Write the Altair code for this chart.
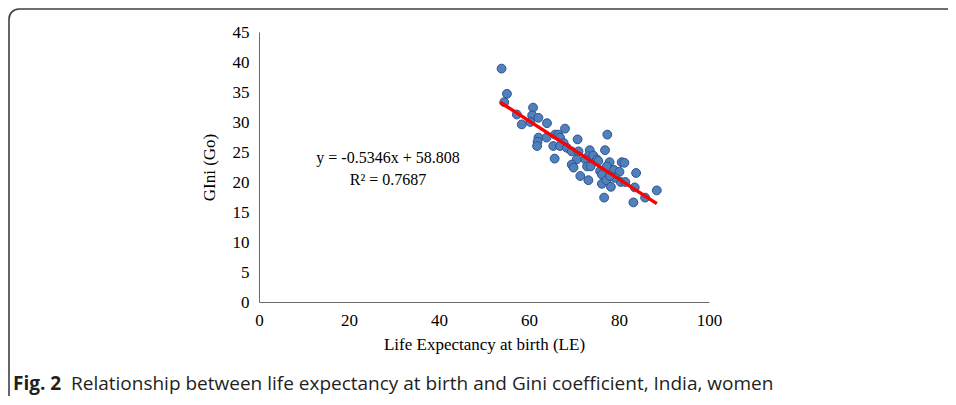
import altair as alt
import pandas as pd

# Life expectancy at birth (LE) and Gini (Go)
le = [53.9, 55.1, 54.5, 57.3, 58.4, 60.9, 60.7, 60.3, 62.1, 64.0, 68.0, 65.8, 66.5, 66.9,
      62.1, 61.9, 61.8, 65.4, 67.7, 66.9, 68.4, 70.8, 65.7, 69.5, 71.0, 70.6, 69.5, 69.9,
      73.5, 73.2, 72.5, 74.3, 75.1, 75.4, 72.9, 73.7, 75.8, 71.4, 73.2, 77.4, 76.9, 77.9,
      77.3, 78.9, 80.1, 76.2, 76.2, 77.2, 78.2, 76.7, 80.6, 81.2, 80.4, 81.4, 83.8, 83.5,
      83.2, 85.8, 88.4, 79.1, 63.9, 78.0]
gini = [38.9, 34.7, 33.3, 31.25, 29.6, 32.4, 31.1, 30.0, 30.7, 29.8, 28.9, 27.9, 27.9, 27.4,
        27.4, 26.7, 26.0, 26.0, 26.5, 26.0, 25.7, 27.1, 23.9, 25.1, 25.1, 23.75, 22.9, 22.4,
        25.3, 24.3, 23.75, 24.4, 23.75, 23.5, 22.6, 22.6, 21.8, 21.0, 20.3, 27.9, 25.3, 23.3,
        22.6, 22.0, 21.7, 21.25, 19.7, 20.3, 19.2, 17.4, 23.3, 23.2, 20.0, 20.0, 21.5, 19.1,
        16.6, 17.4, 18.6, 20.7, 27.4, 21.0]

# Linear trend line end points as drawn
trend_x = [53.6, 88.4]
trend_y = [33.3, 16.4]

x_ticks = [0, 20, 40, 60, 80, 100]
y_ticks = [0, 5, 10, 15, 20, 25, 30, 35, 40, 45]

eq_lines = ["y = -0.5346x + 58.808", "R\u00b2 = 0.7687"]
caption_bold = "Fig. 2"
caption_text = "Relationship between life expectancy at birth and Gini coefficient, India, women"

pts = pd.DataFrame({"LE": le, "Go": gini})
trend = pd.DataFrame({"LE": trend_x, "Go": trend_y})

SERIF = "Liberation Serif"


def x_enc():
    return alt.X("LE:Q", scale=alt.Scale(domain=[0, 100], nice=False),
                 axis=alt.Axis(values=x_ticks, title="Life Expectancy at birth (LE)",
                               labelPadding=10, titlePadding=8, labelOverlap=False,
                               labelFlush=False))


def y_enc():
    return alt.Y("Go:Q", scale=alt.Scale(domain=[0, 45], nice=False),
                 axis=alt.Axis(values=y_ticks, title="GIni (Go)", tickCount=10,
                               labelPadding=10, titlePadding=14, labelOverlap=False,
                               labelFlush=False))


points = alt.Chart(pts).mark_point(
    filled=True, shape="circle", size=78, fill="#4F81BD", stroke="#2F528F",
    strokeWidth=1, opacity=1
).encode(x=x_enc(), y=y_enc())

line = alt.Chart(trend).mark_line(color="#FF0000", strokeWidth=3.5).encode(
    x=x_enc(), y=y_enc())

eq1 = alt.Chart(pd.DataFrame({"t": [eq_lines[0]]})).mark_text(
    font=SERIF, fontSize=16, color="#000000", align="center", baseline="middle"
).encode(x=alt.value(388 - 259), y=alt.value(158 - 32), text="t:N")
eq2 = alt.Chart(pd.DataFrame({"t": [eq_lines[1]]})).mark_text(
    font=SERIF, fontSize=16, color="#000000", align="center", baseline="middle"
).encode(x=alt.value(388 - 259), y=alt.value(180 - 32), text="t:N")

cap1 = alt.Chart(pd.DataFrame({"t": [caption_bold]})).mark_text(
    font="Open Sans", fontSize=19, fontWeight="bold", color="#231F20",
    align="left", baseline="alphabetic"
).encode(x=alt.value(-246), y=alt.value(358), text="t:N")
cap2 = alt.Chart(pd.DataFrame({"t": [caption_text]})).mark_text(
    font="Open Sans", fontSize=19, color="#231F20",
    align="left", baseline="alphabetic"
).encode(x=alt.value(-188), y=alt.value(358), text="t:N")

frame = alt.Chart(pd.DataFrame({"a": [0]})).mark_rect(
    fill=None, fillOpacity=0, stroke="#404040", strokeWidth=1.6, cornerRadius=10
).encode(x=alt.value(-250), x2=alt.value(760), y=alt.value(-23), y2=alt.value(420))

chart = alt.layer(frame, points, line, eq1, eq2, cap1, cap2).properties(
    width=450, height=270,
    padding={"left": 251, "top": 24, "right": 239, "bottom": 94},
    autosize=alt.AutoSizeParams(type="none"),
).configure_view(stroke=None).configure_axis(
    grid=False, ticks=False, domainColor="#6B6B6B", domainWidth=1,
    labelFont=SERIF, labelFontSize=17, labelColor="#000000",
    titleFont=SERIF, titleFontSize=17, titleFontWeight="normal", titleColor="#000000",
)

chart.save("out.html", embed_options={"renderer": "svg", "actions": False})
